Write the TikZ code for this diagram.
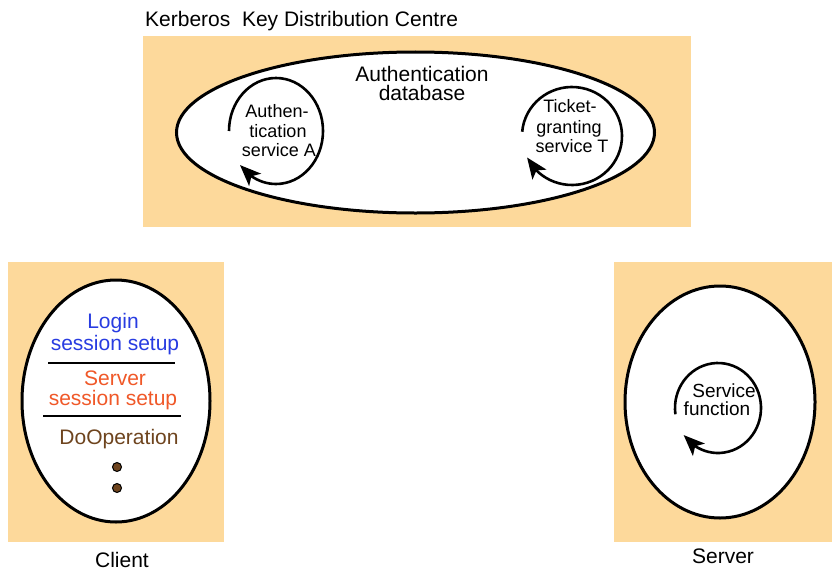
\documentclass[tikz,border=0pt]{standalone}
\usepackage{fontspec}
\setmainfont{Liberation Sans}
\usetikzlibrary{shapes.geometric,arrows.meta,bending}
\definecolor{tan}{RGB}{253,217,155}
\definecolor{loginblue}{RGB}{40,60,225}
\definecolor{serverorange}{RGB}{240,88,40}
\definecolor{dobrown}{RGB}{110,68,30}
\begin{document}
\begin{tikzpicture}[x=1pt,y=-1pt,
  panel/.style={fill=tan, draw=none, inner sep=0pt},
  oval/.style={ellipse, draw=black, fill=white, line width=3pt, inner sep=0pt},
  loopline/.style={line width=2.6pt, -{Stealth[length=21pt,width=17pt,inset=5pt]}},
  bigtext/.style={font=\fontsize{21}{21}\selectfont, inner sep=0pt, anchor=base},
  smalltext/.style={font=\fontsize{18}{18}\selectfont, inner sep=0pt, anchor=base},
  svctext/.style={font=\fontsize{19}{19}\selectfont, inner sep=0pt, anchor=base},
  sepline/.style={line width=2.5pt},
  dot/.style={circle, fill=dobrown, draw=black, line width=1pt, minimum size=9pt, inner sep=0pt}
]
\useasboundingbox (0,0) rectangle (834,578);

% panels
\node[panel, minimum width=548pt, minimum height=191pt] (kdc) at (417,131.5) {};
\node[panel, minimum width=216pt, minimum height=280pt] (clientpanel) at (116,402) {};
\node[panel, minimum width=218pt, minimum height=280pt] (serverpanel) at (723,402) {};

% ovals
\node[oval, minimum width=478pt, minimum height=161pt] (db) at (415.5,132.5) {};
\node[oval, minimum width=188pt, minimum height=242pt] (clientoval) at (116,401) {};
\node[oval, minimum width=190pt, minimum height=232pt] (serveroval) at (720,402) {};

% KDC texts
\node[bigtext, anchor=base west] (title) at (145,27) {Kerberos\ \ Key Distribution Centre};
\node[bigtext] (dbt1) at (422,81) {Authentication};
\node[bigtext] (dbt2) at (422,100) {database};

% Authentication service A
\coordinate (cA) at (276,131);
\draw[loopline] ([shift={(180:47 and 53)}]cA) arc[start angle=180, end angle=500, x radius=47, y radius=53];
\node[smalltext] (a1) at (277,117) {Authen-};
\node[smalltext] (a2) at (278,137) {tication};
\node[smalltext] (a3) at (279,156) {service A};

% Ticket-granting service T
\coordinate (cT) at (572,136);
\draw[loopline] ([shift={(185:50 and 49)}]cT) arc[start angle=185, end angle=514, x radius=50, y radius=49];
\node[smalltext] (t1) at (570,112) {Ticket-};
\node[smalltext] (t2) at (569,133) {granting};
\node[smalltext] (t3) at (572,152) {service T};

% Client
\node[bigtext, text=loginblue] (c1) at (113,328) {Login};
\node[bigtext, text=loginblue] (c2) at (115,350) {session setup};
\coordinate (s1a) at (48,363);
\coordinate (s1b) at (175,363);
\draw[sepline] (s1a) -- (s1b);
\node[bigtext, text=serverorange] (c3) at (115,385) {Server};
\node[bigtext, text=serverorange] (c4) at (113,405) {session setup};
\coordinate (s2a) at (43,416);
\coordinate (s2b) at (181,416);
\draw[sepline] (s2a) -- (s2b);
\node[bigtext, text=dobrown] (c5) at (119,444) {DoOperation};
\node[dot] (d1) at (117,467) {};
\node[dot] (d2) at (117,488) {};
\node[bigtext] (clientlabel) at (122,567) {Client};

% Server
\coordinate (cS) at (718,408);
\draw[loopline] ([shift={(172:43 and 45)}]cS) arc[start angle=172, end angle=503, x radius=43, y radius=45];
\node[svctext] (sv1) at (724,397) {Service};
\node[svctext] (sv2) at (717,415) {function};
\node[bigtext] (serverlabel) at (723,563) {Server};
\end{tikzpicture}
\end{document}
